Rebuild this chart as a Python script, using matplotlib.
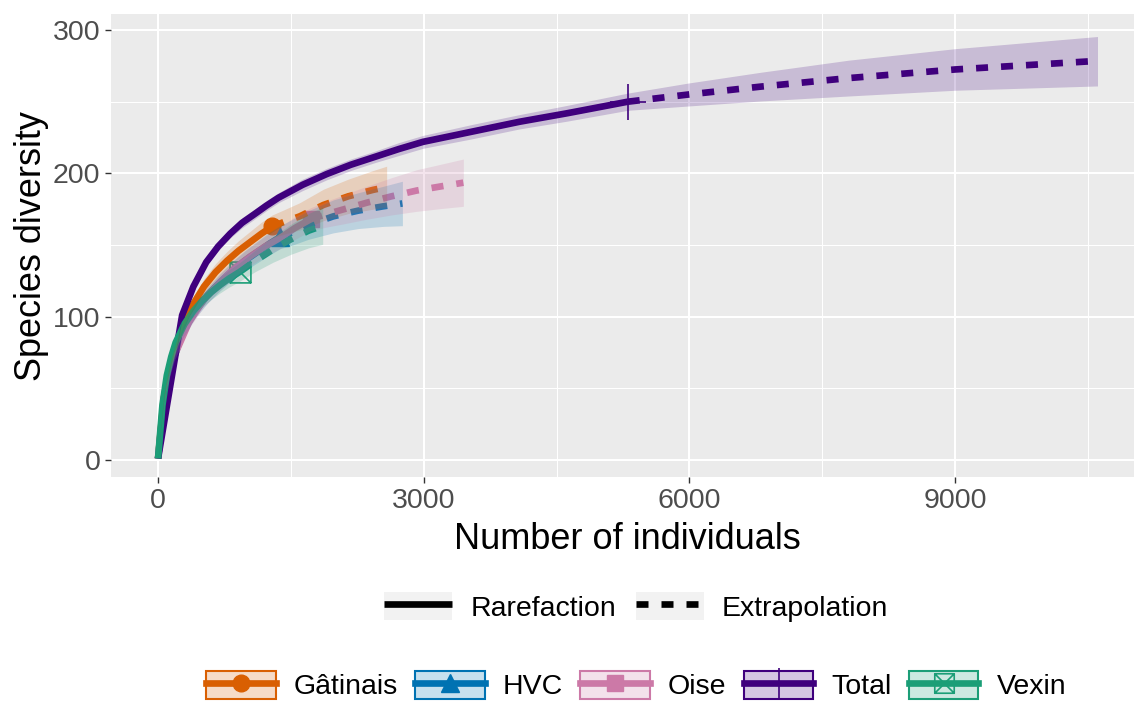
import matplotlib.pyplot as plt
from matplotlib.lines import Line2D
from matplotlib.patches import Patch
from matplotlib.path import Path
from matplotlib.colors import to_rgba

plt.rcParams["font.family"] = ["Liberation Sans", "DejaVu Sans"]

sites = ["Gâtinais", "HVC", "Oise", "Total", "Vexin"]
colors = ["#D95F02", "#0072B2", "#CC79A7", "#3F007D", "#1B9E77"]
n_observed = [1291, 1380, 1724, 5304, 930]

gatinais_n = [1, 65, 130, 260, 390, 520, 650, 780, 910, 1040, 1170, 1291,
              1420, 1600, 1870, 2150, 2430, 2582]
gatinais_est = [1, 43, 64, 90, 108, 121, 131, 139, 146, 152, 158, 163,
                166, 170, 178, 184, 188.5, 190.5]
gatinais_lo = [1, 41, 61, 86, 103, 115.5, 125, 132.5, 139, 144.5, 150, 155,
               157.5, 160.5, 167, 172, 175, 176.5]
gatinais_hi = [1, 45, 67, 94, 113, 126.5, 137, 145.5, 153, 159.5, 166, 171,
               174.5, 179.5, 189, 196, 202, 205]

hvc_n = [1, 70, 140, 280, 420, 560, 700, 840, 980, 1120, 1260, 1380,
         1520, 1700, 1980, 2262, 2544, 2760]
hvc_est = [1, 44, 64, 89, 104, 115, 124, 132, 139, 145, 151, 155.5,
           159, 164, 170, 174, 177, 179]
hvc_lo = [1, 42, 61, 85, 99, 109.5, 118, 125.5, 132, 137.5, 143, 147.5,
          150, 154, 158.5, 161.5, 163, 163.5]
hvc_hi = [1, 46, 67, 93, 109, 120.5, 130, 138.5, 146, 152.5, 159, 163.5,
          168, 174, 181.5, 186.5, 191, 194.5]

oise_n = [1, 90, 180, 350, 520, 700, 870, 1040, 1210, 1380, 1550, 1724,
          1900, 2073, 2356, 2638, 2920, 3203, 3448]
oise_est = [1, 50, 72, 96, 112, 124, 134, 142, 149, 155, 162, 168,
            171.5, 174.5, 179.5, 184, 188, 191, 193.5]
oise_lo = [1, 48, 69, 92, 107, 118.5, 128, 135.5, 142, 147.5, 154, 160,
           162.5, 164.5, 168, 171, 173.5, 175.5, 177]
oise_hi = [1, 52, 75, 100, 117, 129.5, 140, 148.5, 156, 162.5, 170, 176,
           180.5, 184.5, 191, 197, 202.5, 206.5, 210]

total_n = [1, 273, 400, 545, 680, 817, 950, 1089, 1225, 1361, 1633, 1905,
           2177, 2449, 2721, 2993, 3537, 4081, 4625, 5304,
           5985, 6800, 7800, 9000, 10608]
total_est = [1, 101, 121, 138, 149, 158, 165.5, 171.5, 177.5, 183, 192, 199.5,
             206, 211.5, 217, 222, 229, 236, 242, 250,
             255, 260.5, 266.5, 272.5, 278.5]
total_lo = [1, 99, 118.5, 135.5, 146, 155, 162, 168, 174, 179.5, 188, 195.5,
            202, 207.5, 212.5, 217.5, 224, 231, 236.5, 244,
            247, 250.5, 254, 258, 261]
total_hi = [1, 103, 123.5, 140.5, 152, 161, 169, 175, 181, 186.5, 196, 203.5,
            210, 215.5, 221.5, 226.5, 234, 241, 247.5, 256,
            263, 270.5, 279, 287, 295.5]

vexin_n = [1, 50, 100, 150, 200, 300, 400, 500, 600, 700, 800, 930,
           1100, 1300, 1500, 1700, 1860]
vexin_est = [1, 38, 59, 72, 82, 95, 104, 111, 117, 122, 126.5, 131.5,
             139, 147, 154, 160, 163.5]
vexin_lo = [1, 36.5, 57, 69.5, 79, 91.5, 100, 106.5, 112, 116.5, 120.5, 125,
            131.5, 138, 143.5, 148, 150.5]
vexin_hi = [1, 39.5, 61, 74.5, 85, 98.5, 108, 115.5, 122, 127.5, 132.5, 138,
            146.5, 156, 164.5, 172, 176.5]

x_ticks = [0, 3000, 6000, 9000]
y_ticks = [0, 100, 200, 300]

# square with a cross inside (ggplot shape 7)
box_x = Path([(-1, -1), (1, -1), (1, 1), (-1, 1), (-1, -1), (1, 1), (-1, 1), (1, -1)],
             [Path.MOVETO, Path.LINETO, Path.LINETO, Path.LINETO, Path.LINETO,
              Path.LINETO, Path.MOVETO, Path.LINETO])

markers = ["o", "^", "s", "+", box_x]
marker_sizes = [12, 13, 11, 26, 15]
legend_marker_sizes = [12, 13, 11, 22, 14]
LW = 4.8
DASH = (0, (1.8, 1.95))


def marker_style(i, ms):
    style = dict(marker=markers[i], markersize=ms, color=colors[i])
    if i in (3, 4):
        style.update(markerfacecolor="none", markeredgewidth=1.2)
    return style


def draw_site(ax, i, n, est, lo, hi):
    c = colors[i]
    k = n.index(n_observed[i])
    ax.plot(n[k], est[k], linestyle="none", zorder=2, **marker_style(i, marker_sizes[i]))
    ax.plot(n[:k + 1], est[:k + 1], color=c, lw=LW, solid_capstyle="butt",
            solid_joinstyle="round", zorder=3)
    ax.plot(n[k:], est[k:], color=c, lw=LW, linestyle=DASH,
            dash_capstyle="butt", zorder=3)
    ax.fill_between(n, lo, hi, color=c, alpha=0.2, linewidth=0, zorder=4)


def main():
    fig = plt.figure(figsize=(11.34, 7.01), dpi=100)
    ax = fig.add_axes([0.0979, 0.3193, 0.9113, 0.6603])
    ax.set_facecolor("#EBEBEB")
    for s in ax.spines.values():
        s.set_visible(False)

    data = [(gatinais_n, gatinais_est, gatinais_lo, gatinais_hi),
            (hvc_n, hvc_est, hvc_lo, hvc_hi),
            (oise_n, oise_est, oise_lo, oise_hi),
            (total_n, total_est, total_lo, total_hi),
            (vexin_n, vexin_est, vexin_lo, vexin_hi)]
    for i, (n, est, lo, hi) in enumerate(data):
        draw_site(ax, i, n, est, lo, hi)

    ax.set_xlim(-530, 11138)
    ax.set_ylim(-12, 311)
    ax.set_xticks(x_ticks)
    ax.set_yticks(y_ticks)
    ax.set_xticks([1500, 4500, 7500, 10500], minor=True)
    ax.set_yticks([50, 150, 250], minor=True)
    ax.set_axisbelow(True)
    ax.grid(which="major", color="white", lw=1.5)
    ax.grid(which="minor", color="white", lw=0.75)
    ax.tick_params(which="major", length=4, width=1, color="#333333", pad=3.5,
                   labelsize=20.5, labelcolor="#4D4D4D")
    ax.tick_params(which="minor", length=0)
    ax.set_xlabel("Number of individuals", fontsize=26, labelpad=6)
    ax.set_ylabel("Species diversity", fontsize=26, labelpad=3)

    key_bg = Patch(facecolor="#F2F2F2", edgecolor="none")
    method_handles = [
        (key_bg, Line2D([], [], color="black", lw=LW, solid_capstyle="butt")),
        (key_bg, Line2D([], [], color="black", lw=LW, linestyle=DASH,
                        dash_capstyle="butt")),
    ]
    fig.legend(method_handles, ["Rarefaction", "Extrapolation"], loc="center",
               bbox_to_anchor=(0.561, 0.134), ncol=2, frameon=False, fontsize=20.5,
               handlelength=2.4, handleheight=1.15, handletextpad=0.63,
               columnspacing=0.7, borderpad=0)

    site_handles = []
    for i, c in enumerate(colors):
        box = Patch(facecolor=to_rgba(c, 0.22), edgecolor=c, linewidth=1.5)
        line = Line2D([], [], lw=LW, **marker_style(i, legend_marker_sizes[i]))
        site_handles.append((box, line))
    fig.legend(site_handles, sites, loc="center", bbox_to_anchor=(0.561, 0.022),
               ncol=5, frameon=False, fontsize=20.5, handlelength=2.45,
               handleheight=1.15, handletextpad=0.63, columnspacing=0.6, borderpad=0)

    fig.savefig("out.png", dpi=100)


if __name__ == "__main__":
    main()
